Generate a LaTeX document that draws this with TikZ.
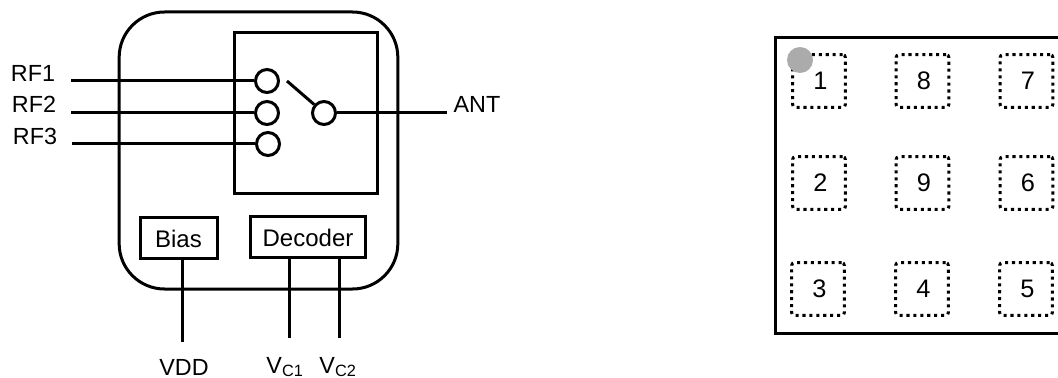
\documentclass[tikz,border=0pt]{standalone}
\usepackage{fontspec}
\setmainfont{Liberation Sans}
\usetikzlibrary{positioning}

\begin{document}
\begin{tikzpicture}[x=0.75pt, y=-0.75pt, line width=2.25pt]

	\tikzstyle{txt} = [inner sep=0pt, font=\fontsize{17.5}{20}\selectfont]
	\tikzstyle{block} = [draw, rectangle, inner sep=0pt, font=\fontsize{18}{20}\selectfont]
	\tikzstyle{contact} = [draw, circle, inner sep=0pt, minimum size=17.25pt]
	\tikzstyle{pad} = [draw, rectangle, dash pattern=on 2.3pt off 2.9pt, rounded corners=2pt, line width=2.2pt, inner sep=0pt, minimum size=39.5pt, font=\fontsize{19}{20}\selectfont, execute at begin node=\hspace{2pt}]

	\clip (0,0) rectangle (1058,378);

	% Schaltbild links
	\node [draw, rectangle, rounded corners=34pt, minimum width=209pt, minimum height=207.75pt] (chip) at (258.5,150.5) {};
	\node [block, minimum width=107.25pt, minimum height=120pt] (switch) at (305.5,113) {};
	\node [block, minimum width=57.75pt, minimum height=30.75pt, text height=15.5pt] (bias) at (178.5,237.5) {Bias};
	\node [block, minimum width=86.25pt, minimum height=30.75pt, text height=15pt] (decoder) at (308,236.5) {Decoder};

	\node [contact] (sw1) at (267,81) {};
	\node [contact] (sw2) at (267,113) {};
	\node [contact] (sw3) at (268,144) {};
	\node [contact] (swant) at (324,113) {};

	\coordinate (rf1end) at (71,81);
	\coordinate (rf2end) at (71,113);
	\coordinate (rf3end) at (72,144);
	\coordinate (antend) at (447,113);
	\coordinate (armend) at (287,81);
	\coordinate (vddend) at (182,342);
	\coordinate (vc1end) at (289,338);
	\coordinate (vc2end) at (339,338);

	\node [txt] (rf1) at (33,73) {RF1};
	\node [txt] (rf2) at (34,104) {RF2};
	\node [txt] (rf3) at (35,136) {RF3};
	\node [txt] (ant) at (477,104) {ANT};
	\node [txt] (vdd) at (184,367) {VDD};
	\node [txt] (vc1) at (285,367) {V\textsubscript{C1}};
	\node [txt] (vc2) at (338,367) {V\textsubscript{C2}};

	\draw (rf1end) -- (sw1);
	\draw (rf2end) -- (sw2);
	\draw (rf3end) -- (sw3);
	\draw (swant) -- (antend);
	\draw (armend) -- (swant);
	\draw (bias.south -| vddend) -- (vddend);
	\draw (decoder.south -| vc1end) -- (vc1end);
	\draw (decoder.south -| vc2end) -- (vc2end);

	% Gehaeuse rechts
	\node [draw, rectangle, outer sep=0pt, minimum width=225pt, minimum height=221.25pt, anchor=north west] (package) at (775,38) {};

	\node [pad] (pad1) at (819,81) {1};
	\node [pad] (pad8) at (922.5,81) {8};
	\node [pad] (pad7) at (1026.5,81) {7};
	\node [pad] (pad2) at (819,183) {2};
	\node [pad] (pad9) at (922.5,183) {9};
	\node [pad] (pad6) at (1026.5,183) {6};
	\node [pad] (pad3) at (818,289) {3};
	\node [pad] (pad4) at (922,289) {4};
	\node [pad] (pad5) at (1026,289) {5};

	\node [circle, fill=black!33, inner sep=0pt, minimum size=19.5pt] (dot) at (800,60) {};

\end{tikzpicture}
\end{document}
